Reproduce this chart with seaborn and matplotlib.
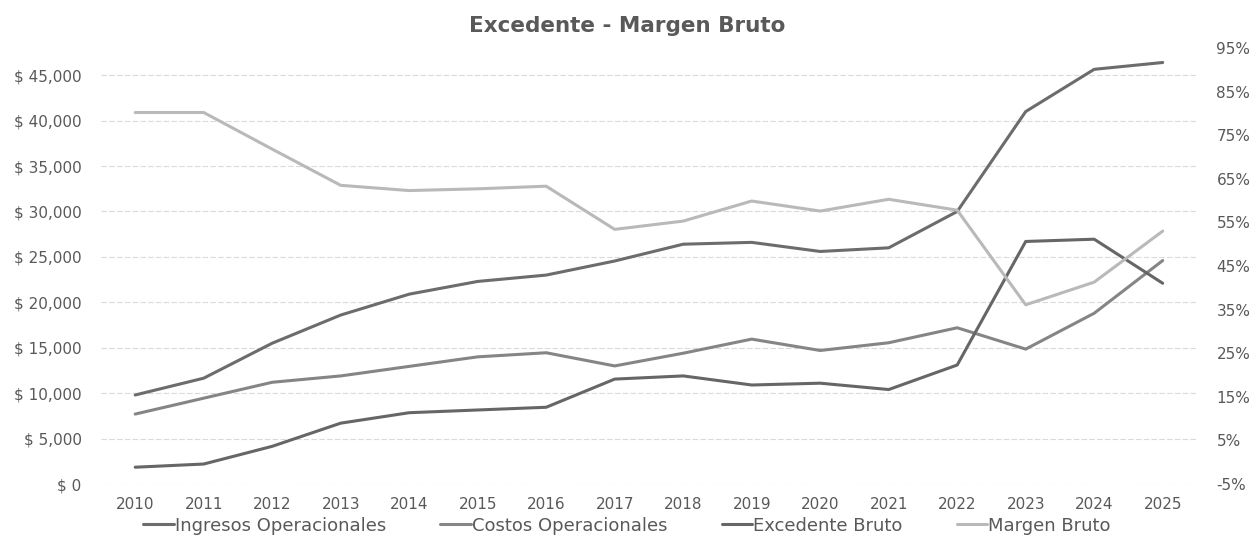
import matplotlib
matplotlib.use("Agg")
import matplotlib.pyplot as plt
import seaborn as sns
import pandas as pd
from matplotlib.ticker import FuncFormatter

years = list(range(2010, 2026))
ingresos = [9800, 11650, 15500, 18600, 20900, 22300, 23000, 24550, 26400,
            26600, 25600, 26000, 30000, 41000, 45650, 46400]
costos = [7700, 9450, 11200, 11900, 12950, 14000, 14450, 13000, 14400,
          15950, 14700, 15550, 17200, 14850, 18800, 24600]
excedente = [1850, 2200, 4150, 6700, 7850, 8150, 8450, 11550, 11900,
             10900, 11100, 10400, 13100, 26700, 26950, 22100]
margen = [80.2, 80.2, 71.8, 63.5, 62.3, 62.7, 63.3, 53.4, 55.3,
          59.9, 57.6, 60.3, 57.8, 36.1, 41.3, 53.0]

left_ticks = list(range(0, 45001, 5000))
right_ticks = list(range(-5, 96, 10))

text_color = "#595959"

sns.set_style("white")
plt.rcParams["font.family"] = ["DejaVu Sans"]

fig = plt.figure(figsize=(12.54, 5.39), dpi=100)
ax = fig.add_axes([0.0805, 0.102, 0.874, 0.809])
ax2 = ax.twinx()

df = pd.DataFrame({"year": years, "Ingresos Operacionales": ingresos,
                   "Costos Operacionales": costos, "Excedente Bruto": excedente,
                   "Margen Bruto": margen})

sns.lineplot(data=df, x="year", y="Ingresos Operacionales", ax=ax,
             color="#6c6c6c", lw=2.2, label="Ingresos Operacionales", legend=False)
sns.lineplot(data=df, x="year", y="Costos Operacionales", ax=ax,
             color="#858585", lw=2.2, label="Costos Operacionales", legend=False)
sns.lineplot(data=df, x="year", y="Excedente Bruto", ax=ax,
             color="#666666", lw=2.2, label="Excedente Bruto", legend=False)
sns.lineplot(data=df, x="year", y="Margen Bruto", ax=ax2,
             color="#b9b9b9", lw=2.2, label="Margen Bruto", legend=False)

ax.set_xlim(2009.5, 2025.5)
ax.set_ylim(0, 48000)
ax2.set_ylim(-5, 95)
ax.set_yticks(left_ticks)
ax2.set_yticks(right_ticks)
ax.set_xticks(years)
ax.yaxis.set_major_formatter(FuncFormatter(lambda v, p: f"$ {v:,.0f}"))
ax2.yaxis.set_major_formatter(FuncFormatter(lambda v, p: f"{v:.0f}%"))

ax.grid(axis="y", color="#dadada", lw=0.8, linestyle=(0, (5, 2)))
ax.grid(axis="x", visible=False)
ax2.grid(False)
for a in (ax, ax2):
    for s in a.spines.values():
        s.set_visible(False)
    a.set_xlabel("")
    a.set_ylabel("")
    a.tick_params(length=0, colors=text_color, labelsize=11)
ax.tick_params(axis="y", pad=14)
ax2.tick_params(axis="y", pad=14)
ax.tick_params(axis="x", pad=9)

fig.suptitle("Excedente - Margen Bruto", y=0.97, fontsize=15.5,
             fontweight="bold", color=text_color)

h1, l1 = ax.get_legend_handles_labels()
h2, l2 = ax2.get_legend_handles_labels()
fig.legend(h1 + h2, l1 + l2, loc="lower center", bbox_to_anchor=(0.5, -0.022),
           ncol=4, frameon=False, fontsize=13, handlelength=1.7,
           handletextpad=0.05, columnspacing=3.0, labelcolor=text_color)

fig.savefig("out.png", dpi=100)
